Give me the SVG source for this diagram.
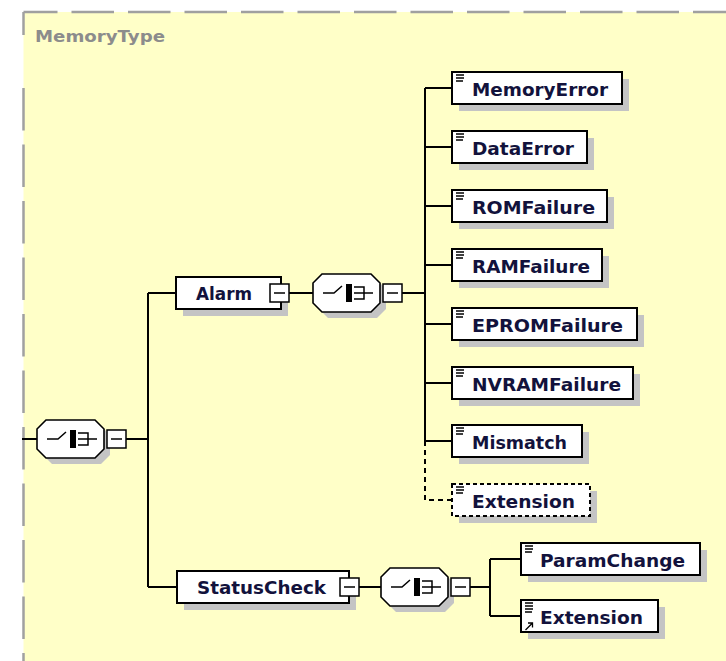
<svg xmlns="http://www.w3.org/2000/svg" width="726" height="661" viewBox="0 0 726 661">
<defs>
<style>
.bg{fill:#FFFFC8;stroke:none}
.brd{fill:none;stroke:#a0a0a0;stroke-width:2.5}
.box{fill:#fff;stroke:#000;stroke-width:2}
.dbox{fill:#fff;stroke:#000;stroke-width:2;stroke-dasharray:4 3}
.sh{fill:#c4c4c4;stroke:none}
.ln{fill:none;stroke:#000;stroke-width:2}
.dln{fill:none;stroke:#000;stroke-width:2;stroke-dasharray:5 4}
.ic{fill:none;stroke:#000;stroke-width:1.3}
.t{font-family:"DejaVu Sans",Verdana,sans-serif;font-weight:bold;font-size:18px;fill:#12123c}
.lbl{font-family:"DejaVu Sans",Verdana,sans-serif;font-weight:bold;font-size:16px;fill:#8c8c8c}
.mb{fill:#fff;stroke:#000;stroke-width:1.5}
</style>
<g id="hexsym">
<path class="sh" d="M15,-13 H64 L73,-4 V16 L64,25 H15 L6,16 V-4 Z"/>
<path d="M9,-19 H58 L67,-10 V10 L58,19 H9 L0,10 V-10 Z" fill="#fff" stroke="#000" stroke-width="1.6"/>
<path d="M10,0 H21 L29,-7" fill="none" stroke="#000" stroke-width="1.5"/>
<rect x="33" y="-9" width="6" height="18" fill="#000"/>
<path d="M41,-6 H51 V6 H41 M41,0 H60" fill="none" stroke="#000" stroke-width="1.5"/>
</g>
<g id="minus">
<rect class="mb" x="0" y="-9" width="19" height="18"/>
<path d="M4,0 H15" stroke="#000" stroke-width="1.5"/>
</g>
<g id="icon3">
<path class="ic" d="M4,3 H12 M4,6 H12 M4,9 H11"/>
</g>
</defs>

<rect class="bg" x="23.5" y="12" width="710" height="660"/>
<path class="brd" d="M23.5,12 H726" stroke-dasharray="42.5 14" stroke-dashoffset="8.5"/>
<path class="brd" d="M23.5,12 V35"/>
<path class="brd" d="M23.5,88 V661" stroke-dasharray="42.5 14"/>
<text class="lbl" x="35" y="42" textLength="130" lengthAdjust="spacingAndGlyphs">MemoryType</text>

<g id="connectors">
<path class="ln" d="M22,439 H37"/>
<path class="ln" d="M126,439 H148 M148,293 V587 M148,293 H176 M148,587 H177"/>
<path class="ln" d="M289,293 H313 M402,293 H425"/>
<path class="ln" d="M425,88 V441 M425,88 H452 M425,147 H452 M425,206 H452 M425,265 H452 M425,324 H452 M425,383 H452 M425,441 H452"/>
<path class="dln" d="M425,441 V500 H452"/>
<path class="ln" d="M358,587 H381 M469,587 H490 M490,559 V616 M490,559 H521 M490,616 H521"/>
</g>

<g id="root-seq">
<use href="#hexsym" x="37" y="439"/>
<use href="#minus" x="107" y="439"/>
</g>

<g id="Alarm">
<rect class="sh" x="183" y="284" width="105" height="32"/>
<rect class="box" x="176" y="277" width="105" height="32"/>
<text class="t" x="196" y="300" textLength="56" lengthAdjust="spacingAndGlyphs">Alarm</text>
<use href="#minus" x="270" y="293"/>
</g>

<g id="Alarm-seq">
<use href="#hexsym" x="313" y="293"/>
<use href="#minus" x="383" y="293"/>
</g>

<g id="MemoryError">
<rect class="sh" x="459" y="79" width="170" height="32"/>
<rect class="box" x="452" y="72" width="170" height="32"/>
<use href="#icon3" x="452" y="72"/>
<text class="t" x="472" y="96" textLength="136" lengthAdjust="spacingAndGlyphs">MemoryError</text>
</g>

<g id="DataError">
<rect class="sh" x="459" y="138" width="135" height="32"/>
<rect class="box" x="452" y="131" width="135" height="32"/>
<use href="#icon3" x="452" y="131"/>
<text class="t" x="472" y="155" textLength="102" lengthAdjust="spacingAndGlyphs">DataError</text>
</g>

<g id="ROMFailure">
<rect class="sh" x="459" y="197" width="155" height="32"/>
<rect class="box" x="452" y="190" width="155" height="32"/>
<use href="#icon3" x="452" y="190"/>
<text class="t" x="472" y="214" textLength="123" lengthAdjust="spacingAndGlyphs">ROMFailure</text>
</g>

<g id="RAMFailure">
<rect class="sh" x="459" y="256" width="150" height="32"/>
<rect class="box" x="452" y="249" width="150" height="32"/>
<use href="#icon3" x="452" y="249"/>
<text class="t" x="472" y="273" textLength="118" lengthAdjust="spacingAndGlyphs">RAMFailure</text>
</g>

<g id="EPROMFailure">
<rect class="sh" x="459" y="315" width="185" height="32"/>
<rect class="box" x="452" y="308" width="185" height="32"/>
<use href="#icon3" x="452" y="308"/>
<text class="t" x="472" y="332" textLength="151" lengthAdjust="spacingAndGlyphs">EPROMFailure</text>
</g>

<g id="NVRAMFailure">
<rect class="sh" x="459" y="374" width="181" height="32"/>
<rect class="box" x="452" y="367" width="181" height="32"/>
<use href="#icon3" x="452" y="367"/>
<text class="t" x="472" y="391" textLength="149" lengthAdjust="spacingAndGlyphs">NVRAMFailure</text>
</g>

<g id="Mismatch">
<rect class="sh" x="459" y="432" width="130" height="32"/>
<rect class="box" x="452" y="425" width="130" height="32"/>
<use href="#icon3" x="452" y="425"/>
<text class="t" x="472" y="449" textLength="95" lengthAdjust="spacingAndGlyphs">Mismatch</text>
</g>

<g id="Extension-opt">
<rect class="sh" x="459" y="491" width="138" height="32"/>
<rect class="dbox" x="452" y="484" width="138" height="32"/>
<use href="#icon3" x="452" y="484"/>
<text class="t" x="472" y="508" textLength="103" lengthAdjust="spacingAndGlyphs">Extension</text>
</g>

<g id="StatusCheck">
<rect class="sh" x="184" y="578" width="172" height="32"/>
<rect class="box" x="177" y="571" width="172" height="32"/>
<text class="t" x="197" y="594" textLength="129" lengthAdjust="spacingAndGlyphs">StatusCheck</text>
<use href="#minus" x="340" y="587"/>
</g>

<g id="StatusCheck-seq">
<use href="#hexsym" x="381" y="587"/>
<use href="#minus" x="451" y="587"/>
</g>

<g id="ParamChange">
<rect class="sh" x="528" y="550" width="179" height="32"/>
<rect class="box" x="521" y="543" width="179" height="32"/>
<use href="#icon3" x="521" y="543"/>
<text class="t" x="540" y="567" textLength="145" lengthAdjust="spacingAndGlyphs">ParamChange</text>
</g>

<g id="Extension-ref">
<rect class="sh" x="528" y="607" width="137" height="32"/>
<rect class="box" x="521" y="600" width="137" height="32"/>
<path class="ic" d="M525,603 H533 M525,606 H533 M525,609 H533 M525,612 H532"/>
<path d="M525.5,630 L532,623.5 M528,623 H532.5 V627.5" fill="none" stroke="#000" stroke-width="1.3"/>
<text class="t" x="540" y="624" textLength="103" lengthAdjust="spacingAndGlyphs">Extension</text>
</g>
</svg>
